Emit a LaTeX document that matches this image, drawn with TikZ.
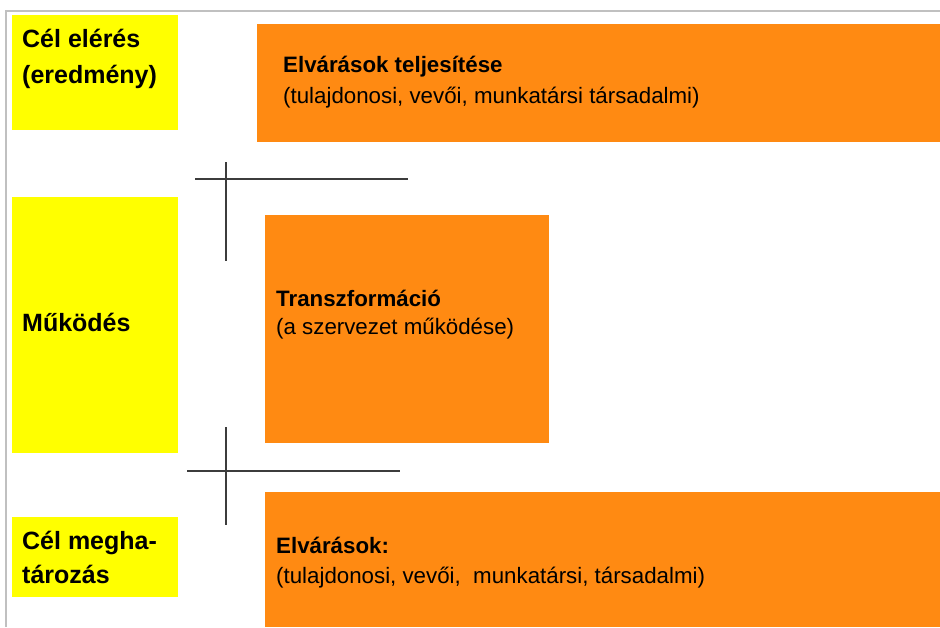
\documentclass[tikz,border=0pt]{standalone}
\usepackage{fontspec}
\setmainfont{Liberation Sans}
\usetikzlibrary{positioning}
\definecolor{celyellow}{HTML}{FFFF00}
\definecolor{boxorange}{HTML}{FF8A12}
\definecolor{framegray}{HTML}{C0C0C0}
\definecolor{tickgray}{HTML}{3C3C3C}

\begin{document}
\begin{tikzpicture}[x=1pt,y=-1pt]
      \useasboundingbox (0,0) rectangle (940,627);
      % keret
      \draw[framegray, line width=2pt] (6,627) -- (6,11) -- (940,11);
      \begin{scope}[every node/.style={rectangle,anchor=north west,inner sep=0pt,outer sep=0pt}]
        \node (celY) [fill=celyellow, minimum width=166pt, minimum height=115pt] at (12,15) {};
        \node (mukY) [fill=celyellow, minimum width=166pt, minimum height=256pt] at (12,197) {};
        \node (megY) [fill=celyellow, minimum width=166pt, minimum height=80pt] at (12,517) {};
        \node (elvO) [fill=boxorange, minimum width=683pt, minimum height=118pt] at (257,24) {};
        \node (traO) [fill=boxorange, minimum width=284pt, minimum height=228pt] at (265,215) {};
        \node (kovO) [fill=boxorange, minimum width=675pt, minimum height=135pt] at (265,492) {};
      \end{scope}
      % base = utolso sor alapvonala
      \begin{scope}[every node/.style={anchor=base west,inner sep=0pt,align=left}]
        \node (celT) [font=\bfseries\fontsize{25}{36}\selectfont] at (22,83) {Cél elérés\\(eredmény)};
        \node (mukT) [font=\bfseries\fontsize{25}{36}\selectfont] at (22,331) {Működés};
        \node (megT) [font=\bfseries\fontsize{25}{34}\selectfont] at (22,583) {Cél megha-\\tározás};
        \node (elvT) [font=\fontsize{22.3}{31}\selectfont] at (283,103) {\textbf{Elvárások teljesítése}\\(tulajdonosi, vevői, munkatársi társadalmi)};
        \node (traT) [font=\fontsize{22.3}{28}\selectfont] at (276,334) {\textbf{Transzformáció}\\(a szervezet működése)};
        \node (kovT) [font=\fontsize{22.3}{30}\selectfont] at (276,583) {\textbf{Elvárások:}\\(tulajdonosi, vevői,~ munkatársi, társadalmi)};
      \end{scope}
      \coordinate (h1l) at (195,179);
      \coordinate (h1r) at (408,179);
      \coordinate (v1t) at (226,162);
      \coordinate (v1b) at (226,261);
      \coordinate (h2l) at (187,471);
      \coordinate (h2r) at (400,471);
      \coordinate (v2t) at (226,427);
      \coordinate (v2b) at (226,525);
      \begin{scope}
        [every edge/.style={draw= tickgray, line width=1.5pt}]
        \path (h1l) edge (h1r);
        \path (v1t) edge (v1b);
        \path (h2l) edge (h2r);
        \path (v2t) edge (v2b);
      \end{scope}
    \end{tikzpicture}
\end{document}
